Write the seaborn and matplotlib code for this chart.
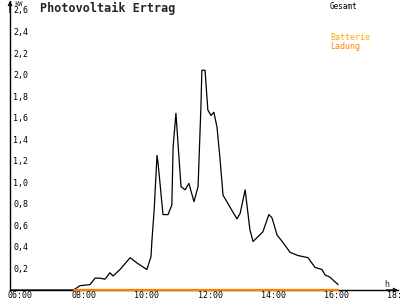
import matplotlib
matplotlib.use("Agg")
import matplotlib.pyplot as plt
import matplotlib.transforms as mtransforms
import seaborn as sns
import pandas as pd

# ---- data (hours of day, kW) ----
pv_hours = [6.00, 7.96, 8.03, 8.18, 8.50, 8.66, 8.82, 8.97, 9.13, 9.23, 9.45, 9.77,
            9.99, 10.30, 10.43, 10.46, 10.53, 10.62, 10.65, 10.81, 10.97, 11.09,
            11.13, 11.22, 11.25, 11.38, 11.51, 11.63, 11.79, 11.92, 12.01, 12.04,
            12.14, 12.23, 12.33, 12.42, 12.52, 12.61, 12.71, 13.15, 13.25, 13.41,
            13.56, 13.66, 13.97, 14.16, 14.26, 14.42, 14.61, 14.83, 15.08, 15.40,
            15.62, 15.84, 15.94, 16.09, 16.35]
pv_gesamt = [0.00, 0.00, 0.01, 0.04, 0.05, 0.11, 0.11, 0.10, 0.16, 0.13, 0.19, 0.30,
             0.25, 0.19, 0.31, 0.46, 0.74, 1.25, 1.19, 0.70, 0.70, 0.79,
             1.33, 1.64, 1.51, 0.96, 0.93, 0.99, 0.82, 0.96, 1.70, 2.04,
             2.04, 1.67, 1.62, 1.65, 1.51, 1.23, 0.88, 0.66, 0.71, 0.93,
             0.56, 0.45, 0.54, 0.70, 0.67, 0.51, 0.44, 0.35, 0.32, 0.30,
             0.21, 0.19, 0.14, 0.12, 0.05]
batt_hours = [7.98, 16.35]
batt_ladung = [0.0, 0.0]

y_ticks = [0.2, 0.4, 0.6, 0.8, 1.0, 1.2, 1.4, 1.6, 1.8, 2.0, 2.2, 2.4, 2.6]
y_labels = ["0,2", "0,4", "0,6", "0,8", "1,0", "1,2", "1,4", "1,6", "1,8",
            "2,0", "2,2", "2,4", "2,6"]
x_ticks = [6, 8, 10, 12, 14, 16, 18]
x_labels = ["06:00", "08:00", "10:00", "12:00", "14:00", "16:00", "18:00"]

sns.set_style("white")
plt.rcParams["font.family"] = ["DejaVu Sans Mono", "DejaVu Sans"]

fig = plt.figure(figsize=(4, 3), dpi=100)
ax = fig.add_axes([10 / 400, 10 / 300, 388 / 400, 289 / 300])

pv_df = pd.DataFrame({"h": pv_hours, "kW": pv_gesamt})
bt_df = pd.DataFrame({"h": batt_hours, "kW": batt_ladung})

sns.lineplot(data=pv_df, x="h", y="kW", ax=ax, color="black", lw=0.9,
             zorder=3, legend=False)
sns.lineplot(data=bt_df, x="h", y="kW", ax=ax, color="#ff8000", lw=1.6,
             zorder=4, legend=False, clip_on=False)

ax.set_xlim(6 - 1 / 31.6, 6 + 388 / 31.6 - 1 / 31.6)
ax.set_ylim(0, 2.683)
ax.set_xlabel("")
ax.set_ylabel("")

for s in ["top", "right"]:
    ax.spines[s].set_visible(False)
for s in ["left", "bottom"]:
    ax.spines[s].set_color("black")
    ax.spines[s].set_linewidth(1.0)

ax.set_yticks(y_ticks)
ax.set_yticklabels(y_labels, fontsize=6)
ax.tick_params(axis="y", direction="inout", length=5, width=0.8, pad=-5.0,
               colors="black")
for lab in ax.get_yticklabels():
    lab.set_ha("left")

ax.set_xticks(x_ticks)
ax.set_xticklabels(x_labels, fontsize=6)
ax.tick_params(axis="x", direction="inout", length=4, width=0.8, pad=-1.2,
               colors="black")
off = mtransforms.ScaledTranslation(-3 / 100, 0, fig.dpi_scale_trans)
for lab in ax.get_xticklabels():
    lab.set_ha("left")
    lab.set_transform(lab.get_transform() + off)

# axis arrows
ax.annotate("", xy=(1.0, 0), xytext=(0.97, 0), xycoords="axes fraction",
            arrowprops=dict(arrowstyle="->", lw=0.9, color="black",
                            mutation_scale=6, shrinkA=0, shrinkB=0))
ax.annotate("", xy=(0, 1.0), xytext=(0, 0.96), xycoords="axes fraction",
            arrowprops=dict(arrowstyle="->", lw=0.9, color="black",
                            mutation_scale=6, shrinkA=0, shrinkB=0))

# texts
fig.text(14 / 400, 1 - 1 / 300, "kW", fontsize=5, va="top", ha="left")
fig.text(40 / 400, 1 - 2 / 300, "Photovoltaik Ertrag", fontsize=8.5,
         fontweight="bold", va="top", ha="left")
fig.text(330 / 400, 1 - 2 / 300, "Gesamt", fontsize=5.5, va="top", ha="left",
         color="black")
fig.text(330 / 400, 1 - 33 / 300, "Batterie", fontsize=6, va="top", ha="left",
         color="#ffaa00")
fig.text(330 / 400, 1 - 42 / 300, "Ladung", fontsize=6, va="top", ha="left",
         color="#ff8800")
fig.text(384 / 400, 1 - 280 / 300, "h", fontsize=6, va="top", ha="left")

fig.savefig("out.png", dpi=100)
